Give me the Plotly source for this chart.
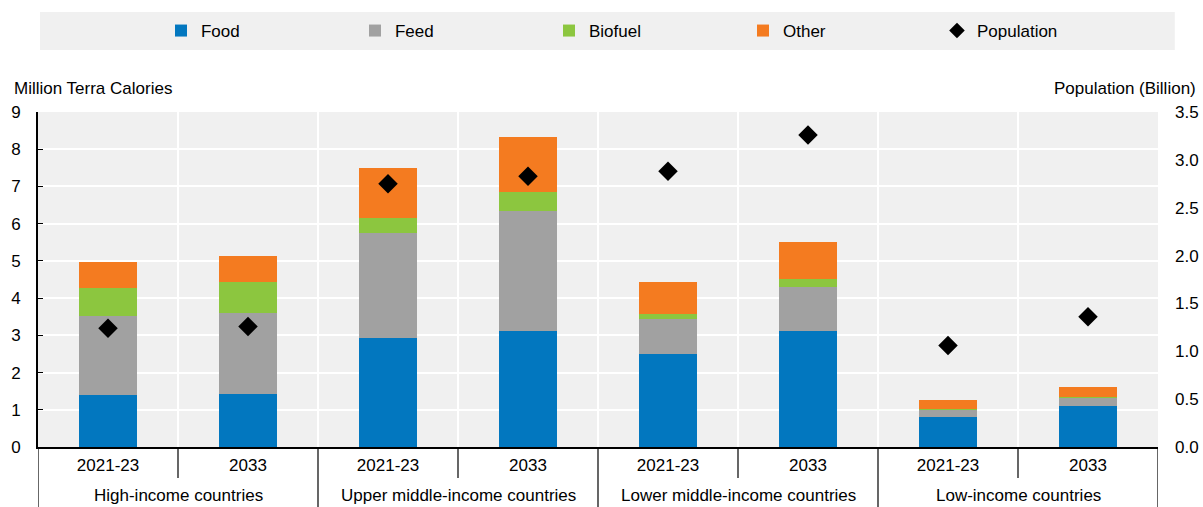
import plotly.graph_objects as go

# data
groups = ["High-income countries", "Upper middle-income countries",
          "Lower middle-income countries", "Low-income countries"]
periods = ["2021-23", "2033"]

food = [1.41, 1.43, 2.93, 3.12, 2.49, 3.11, 0.81, 1.09]
feed = [2.11, 2.18, 2.82, 3.23, 0.96, 1.19, 0.19, 0.24]
biofuel = [0.76, 0.81, 0.39, 0.50, 0.12, 0.22, 0.01, 0.01]
other = [0.68, 0.71, 1.35, 1.48, 0.87, 0.98, 0.24, 0.27]
population = [1.24, 1.26, 2.75, 2.83, 2.88, 3.26, 1.06, 1.36]

# one unique category per bar, labelled with the period only
x = [g + " | " + p for g in groups for p in periods]
tick_text = [p for _ in groups for p in periods]

FONT = "Liberation Sans Narrow, Arial Narrow, Liberation Sans, Arial"
fs = 17

fig = go.Figure()
for name, vals, col in [("Food", food, "#0277bf"),
                        ("Feed", feed, "#a1a1a1"),
                        ("Biofuel", biofuel, "#8cc63f"),
                        ("Other", other, "#f47b20")]:
    fig.add_bar(x=x, y=vals, name=name, marker_color=col,
                marker_line_width=0, width=0.41)

fig.add_scatter(x=x, y=population, name="Population", yaxis="y2",
                mode="markers",
                marker=dict(symbol="diamond", size=15, color="black"))

# grey band behind the legend
fig.add_shape(type="rect", xref="paper", yref="paper",
              x0=0.0018, x1=1.015, y0=1.185, y1=1.2985,
              fillcolor="#f0f0f0", line_width=0, layer="below")

# small ticks between periods, long dividers between country groups
for i, g in enumerate(groups):
    fig.add_shape(type="line", xref="x", yref="paper",
                  x0=2 * i + 0.5, x1=2 * i + 0.5, y0=0, y1=-0.0925,
                  line=dict(color="black", width=1.2))
    fig.add_shape(type="line", xref="x", yref="paper",
                  x0=2 * i - 0.5, x1=2 * i - 0.5, y0=0, y1=-0.18,
                  line=dict(color="black", width=1.2))
    fig.add_annotation(text=g, xref="x", yref="paper", x=2 * i + 0.5,
                       y=-0.1433, yanchor="middle", showarrow=False,
                       font=dict(size=fs, color="black"))
fig.add_shape(type="line", xref="x", yref="paper",
              x0=2 * len(groups) - 0.5, x1=2 * len(groups) - 0.5,
              y0=0, y1=-0.18, line=dict(color="black", width=1.2))

fig.add_annotation(text="Million Terra Calories", xref="paper", yref="paper",
                   x=-0.0232, y=1.0716, xanchor="left", yanchor="middle",
                   showarrow=False, font=dict(size=fs, color="black"))
fig.add_annotation(text="Population (Billion)", xref="paper", yref="paper",
                   x=1.0357, y=1.0716, xanchor="right", yanchor="middle",
                   showarrow=False, font=dict(size=fs, color="black"))

fig.update_layout(
    width=1203, height=507,
    margin=dict(l=38, r=45, t=112, b=60, autoexpand=False),
    barmode="stack",
    paper_bgcolor="white",
    plot_bgcolor="#f0f0f0",
    font=dict(family=FONT, size=fs, color="black"),
    legend=dict(orientation="h", x=0.1098, y=1.2418, xanchor="left",
                yanchor="middle", bgcolor="rgba(0,0,0,0)",
                traceorder="normal",
                entrywidth=149, entrywidthmode="pixels",
                font=dict(size=fs), itemsizing="constant"),
    xaxis=dict(type="category", tickvals=x, ticktext=tick_text,
               showline=True, linecolor="black", linewidth=2,
               ticks="", tickson="boundaries", showgrid=True,
               gridcolor="white", gridwidth=2, automargin=False,
               range=[-0.5, 7.5], ticklabelstandoff=2,
               tickfont=dict(size=fs)),
    yaxis=dict(range=[0, 9], dtick=1, showline=True, linecolor="black",
               linewidth=2, ticks="inside", ticklen=5, tickcolor="black",
               gridcolor="white", gridwidth=2, zeroline=False,
               automargin=False,
               ticklabelstandoff=12, tickfont=dict(size=fs)),
    yaxis2=dict(range=[0, 3.5], dtick=0.5, tickformat=".1f",
                overlaying="y", side="right", showgrid=False,
                zeroline=False, showline=False, ticklabelstandoff=16,
                automargin=False, tickfont=dict(size=fs)),
)

# drop the browser's default body margin so the figure fills the window
fig.write_html("out.html", config={"displayModeBar": False},
               post_script="document.body.style.margin='0';")
